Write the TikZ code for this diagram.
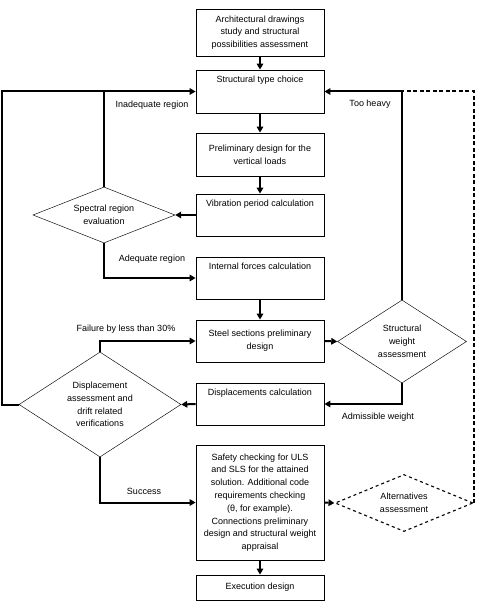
\documentclass[tikz,border=0pt]{standalone}
\usepackage{fontspec}
\setmainfont{Liberation Sans}
\usetikzlibrary{shapes.geometric,arrows.meta}

\tikzset{
  box/.style={draw,line width=0.8pt,minimum width=128pt,inner sep=0pt,align=center,
    font=\fontsize{9pt}{12.8pt}\selectfont},
  boxtop/.style={anchor=north,inner sep=0pt,yshift=-6.5pt,font=\fontsize{9pt}{12.8pt}\selectfont},
  cond/.style={draw,diamond,line width=0.45pt,inner sep=0pt,align=center,
    font=\fontsize{9pt}{12.8pt}\selectfont},
  flow/.style={line width=2pt,-{Triangle[length=6pt,width=6.5pt]}},
  altline/.style={line width=2pt,dash pattern=on 4pt off 2.5pt},
  note/.style={inner sep=0pt,font=\fontsize{9pt}{12.8pt}\selectfont}
}

\begin{document}
\begin{tikzpicture}[x=1pt,y=-1pt]
\useasboundingbox (0,0) rectangle (487,609);

% main column
\node[box,minimum height=47pt] (study) at (260,32.5)
  {Architectural drawings\\study and structural\\possibilities assessment};
\node[box,minimum height=43pt,label={[boxtop]north:Structural type choice}] (choice) at (260,91.5) {};
\node[box,minimum height=43pt] (prelim) at (260,154.5)
  {Preliminary design for the\\vertical loads};
\node[box,minimum height=42pt,label={[boxtop]north:Vibration period calculation}] (vib) at (260,215) {};
\node[box,minimum height=42pt,label={[boxtop]north:Internal forces calculation}] (forces) at (260,278) {};
\node[box,minimum height=42pt] (steel) at (260,341)
  {Steel sections preliminary\\design};
\node[box,minimum height=42pt,label={[boxtop]north:Displacements calculation}] (displ) at (260,404) {};
\node[box,minimum height=115pt] (safety) at (260,502.5)
  {Safety checking for ULS\\and SLS for the attained\\solution. Additional code\\requirements checking\\(θ, for example).\\Connections preliminary\\design and structural weight\\appraisal};
\node[box,minimum height=25pt] (exec) at (260,587.5) {Execution design};

% decisions
\node[cond,minimum width=142pt,minimum height=56pt,shape aspect=2.5] (spectral) at (104,215)
  {Spectral region\\evaluation};
\node[cond,minimum width=162pt,minimum height=105pt,shape aspect=1.5] (drift) at (100,404.5)
  {Displacement\\assessment and\\drift related\\verifications};
\node[cond,minimum width=129pt,minimum height=83pt,shape aspect=1.5] (weight) at (402,341.5)
  {Structural\\weight\\assessment};
\node[cond,dashed,line width=1.1pt,minimum width=138pt,minimum height=57pt,shape aspect=2.4] (alt) at (404,503)
  {Alternatives\\assessment};

\draw[flow] (study) -- (choice);
\draw[flow] (choice) -- (prelim);
\draw[flow] (prelim) -- (vib);
\draw[flow] (vib.west) -- (spectral.east);
\draw[line width=2pt] (spectral.north) -- (spectral.north |- choice.west);
\draw[flow] (drift.west) -- ++(-17,0) |- (choice.west);
\draw[flow] (spectral.south) |- (forces.west);
\draw[flow] (forces) -- (steel);
\draw[flow] (steel.east) -- (weight.west);
\draw[flow] (weight.north) |- (choice.east);
\draw[flow] (weight.south) |- (displ.east);
\draw[flow] (displ.west) -- (drift.east);
\draw[flow] (drift.north) |- (steel.west);
\draw[flow] (drift.south) |- (safety.west);
\draw[flow,altline] (safety.east) -- (alt.west);
\draw[altline] (alt.east) -- (alt.east |- choice.east) -- (weight.north |- choice.east);
\draw[flow] (safety) -- (exec);

% branch labels
\node[note] (inadequate) at (152,105) {Inadequate region};
\node[note] (adequate) at (152,259) {Adequate region};
\node[note] (heavy) at (370,104) {Too heavy};
\node[note] (admissible) at (378,417) {Admissible weight};
\node[note] (failure) at (126,329) {Failure by less than 30\%};
\node[note] (success) at (144,491) {Success};
\end{tikzpicture}
\end{document}
